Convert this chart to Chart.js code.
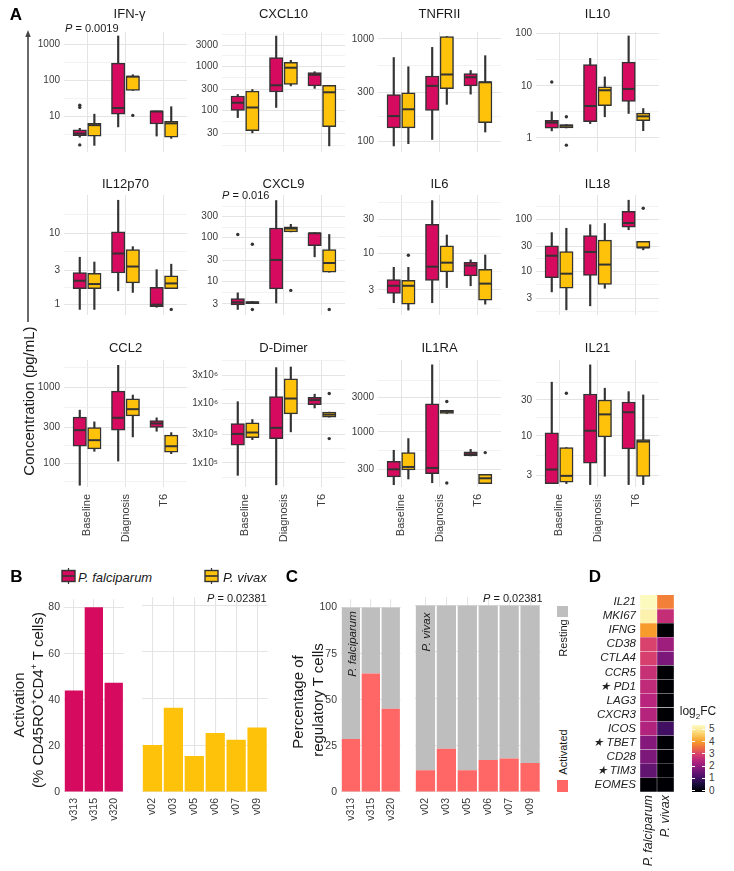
<!DOCTYPE html>
<html><head><meta charset="utf-8">
<script src="https://cdn.jsdelivr.net/npm/chart.js@4/dist/chart.umd.min.js"></script>
<style>
html,body{margin:0;padding:0;background:#fff;}
#fig{position:relative;width:734px;height:871px;overflow:hidden;font-family:"Liberation Sans",Arial,Helvetica,sans-serif;color:#1a1a1a;}
#fig canvas{position:absolute;}
.t{position:absolute;white-space:nowrap;line-height:1;}
</style>
</head><body><div id="fig"></div>
<script>
// ---------------- DATA ----------------
const TIMEPOINTS = ['Baseline', 'Diagnosis', 'T6'];
// Box stats per timepoint: [lower whisker, Q1, median, Q3, upper whisker]
const IFNG_PF = [[2.7,2.97,3.4,4.3,4.75],[5.2,11.7,17.3,302,1700],[2.9,6.25,14.0,14.2,14.2]];
const IFNG_PV = [[1.6,2.9,5.8,6.5,11.7],[53,53,128,133,144],[2.5,2.7,6.5,7.45,18.8]];
const IFNG_PF_OUT = [[20.6,18,1.65],[],[]];
const IFNG_PV_OUT = [[],[10.8],[]];
const IFNG_TICKS = [10,100,1000];

const CXCL10_PF = [[69,100,150,213,231],[117,263,374,1600,4900],[318,362,647,724,760]];
const CXCL10_PV = [[31,35,117,275,300],[362,393,937,1250,1380],[15.7,43,259,374,374]];
const CXCL10_PF_OUT = [[],[],[]];
const CXCL10_PV_OUT = [[],[],[]];
const CXCL10_TICKS = [30,100,300,1000,3000];

const TNFRII_PF = [[90,135,176,286,656],[104,200,347,433,824],[288,347,421,458,490]];
const TNFRII_PV = [[94.6,135,205,296,533],[229,326,448,1050,1050],[123,152,376,383,684]];
const TNFRII_PF_OUT = [[],[],[]];
const TNFRII_PV_OUT = [[],[],[]];
const TNFRII_TICKS = [100,300,1000];

const IL10_PF = [[1.37,1.54,1.97,2.19,3.16],[1.89,2.05,4.1,25.5,33.4],[2.95,5.0,8.7,28.4,89.8]];
const IL10_PV = [[1.56,1.56,1.72,1.81,1.81],[2.55,4.15,8.2,9.5,14.8],[1.38,2.16,2.6,3.0,3.67]];
const IL10_PF_OUT = [[11.8],[],[]];
const IL10_PV_OUT = [[2.55,0.73],[],[]];
const IL10_TICKS = [1,10,100];

const IL12_PF = [[0.84,1.65,2.14,2.8,4.6],[1.54,2.75,5.2,10.5,29.5],[0.9,0.92,0.98,1.73,3.07]];
const IL12_PV = [[0.84,1.65,1.92,2.72,3.94],[1.46,2.0,3.4,5.9,6.5],[1.65,1.65,1.96,2.51,3.67]];
const IL12_PF_OUT = [[],[],[]];
const IL12_PV_OUT = [[],[],[0.84]];
const IL12_TICKS = [1,3,10];

const CXCL9_PF = [[2.25,2.87,3.27,3.97,5.4],[3.16,6.67,30.6,165,700],[36,64.5,125,128,128]];
const CXCL9_PV = [[3.06,3.06,3.27,3.43,3.43],[134,134,160,176,200],[16,16,26,53,117]];
const CXCL9_PF_OUT = [[117],[],[]];
const CXCL9_PV_OUT = [[70,2.25],[6.15],[2.25]];
const CXCL9_TICKS = [3,10,30,100,300];

const IL6_PF = [[1.96,2.66,3.42,4.19,6.27],[1.96,4.06,6.4,25.8,56],[3.42,4.72,6.65,7.36,8.0]];
const IL6_PV = [[1.54,1.87,3.42,4.1,6.27],[3.22,5.4,7.3,12.7,18.1],[1.87,2.13,3.67,5.85,9.4]];
const IL6_PF_OUT = [[],[],[]];
const IL6_PV_OUT = [[9.3],[],[]];
const IL6_TICKS = [3,10,30];

const IL18_PF = [[4.0,7.5,20,31,56],[2.15,8.3,23.7,49,79.5],[63.7,71,86,145,237]];
const IL18_PV = [[1.8,4.7,9,24,68],[4.7,5.6,13.5,40,84],[26,28,29,38,38]];
const IL18_PF_OUT = [[],[],[]];
const IL18_PV_OUT = [[],[],[166]];
const IL18_TICKS = [3,10,30,100];

const CCL2_PF = [[52,169,275,407,503],[108,275,399,896,1950],[266,298,336,368,399]];
const CCL2_PV = [[145,156,203,298,353],[224,423,518,710,794],[135,141,169,236,255]];
const CCL2_PF_OUT = [[],[],[]];
const CCL2_PV_OUT = [[],[],[]];
const CCL2_TICKS = [100,300,1000];

const DDIMER_PF = [[6.2e4,1.99e5,3.08e5,4.6e5,1.07e6],[4.3e4,2.57e5,3.89e5,1.31e6,4.0e6],[8.4e5,9.5e5,1.14e6,1.27e6,1.43e6]];
const DDIMER_PV = [[2.47e5,2.67e5,3.25e5,4.72e5,5.37e5],[3.33e5,6.7e5,1.21e6,2.6e6,4.1e6],[5.89e5,5.89e5,6.5e5,7.15e5,7.15e5]];
const DDIMER_PF_OUT = [[],[],[]];
const DDIMER_PV_OUT = [[],[],[1.47e6,2.57e5]];
const DDIMER_TICKS = [1e5,3e5,1e6,3e6];
const DDIMER_TICK_LABELS = ['1x10\u2075','3x10\u2075','1x10\u2076','3x10\u2076'];

const IL1RA_PF = [[184,236,301,390,555],[196,262,315,2450,8570],[463,463,488,526,572]];
const IL1RA_PV = [[221,295,325,515,807],[1800,1800,1920,2000,2000],[190,190,226,256,256]];
const IL1RA_PF_OUT = [[],[],[]];
const IL1RA_PV_OUT = [[],[2640,194],[515]];
const IL1RA_TICKS = [300,1000,3000];

const IL21_PF = [[2.32,2.32,3.57,11,51.7],[2.25,4.33,11.7,36,87.9],[2.25,6.7,20.6,28.2,38.7]];
const IL21_PV = [[2.32,2.42,2.94,7.0,7.0],[2.9,9.7,19.3,30,43],[2.25,2.9,8.4,8.9,35]];
const IL21_PF_OUT = [[],[],[]];
const IL21_PV_OUT = [[36.8],[],[]];
const IL21_TICKS = [3,10,30];

// Panel B
const B_PF_DONORS = ['v313','v315','v320'];
const B_PF_ACTIVATION = [44.0, 80.1, 47.4];
const B_PV_DONORS = ['v02','v03','v05','v06','v07','v09'];
const B_PV_ACTIVATION = [20.1, 36.1, 15.4, 25.3, 22.4, 27.6];
const B_TICKS = [0,20,40,60,80];

// Panel C
const C_PF_DONORS = ['v313','v315','v320'];
const C_PF_ACTIVATED = [28.7, 64.3, 45.2];
const C_PF_RESTING = [71.3, 35.7, 54.8];
const C_PV_DONORS = ['v02','v03','v05','v06','v07','v09'];
const C_PV_ACTIVATED = [11.6, 23.2, 11.6, 17.1, 17.9, 15.5];
const C_PV_RESTING = [88.4, 76.8, 88.4, 82.9, 82.1, 84.5];
const C_TICKS = [0,25,50,75,100];

// Panel D
const D_GENES = ['IL21','MKI67','IFNG','CD38','CTLA4','CCR5','PD1','LAG3','CXCR3','ICOS','TBET','CD28','TIM3','EOMES'];
const D_STARRED = ['PD1','TBET','TIM3'];
const D_SPECIES = ['P. falciparum','P. vivax'];
const D_PF_LOG2FC = [5.3, 5.15, 4.0, 3.0, 2.95, 2.7, 2.6, 2.5, 2.45, 2.4, 1.85, 1.75, 1.45, 0];
const D_PV_LOG2FC = [3.7, 2.65, 0, 2.15, 1.75, 0, 0, 0, 0, 1.05, 0, 0, 0, 0];
const D_LEGEND_TICKS = [0,1,2,3,4,5];

// ---------------- STYLE / LAYOUT ----------------
const FONT = '"Liberation Sans", Arial, Helvetica, sans-serif';
const PF_COLOR = '#D60A5E', PV_COLOR = '#FFC20A';
const ACT_COLOR = '#FF6666', REST_COLOR = '#BEBEBE';
const LINE = '#333333', TICK_COLOR = '#3a3a3a';
const GRID_MAJOR = '#e4e4e4', GRID_MINOR = '#efefef';
const PALETTE = [[0,'#000004'],[0.5,'#150b35'],[1,'#3e1060'],[1.5,'#661473'],[2,'#921b7e'],[2.5,'#b9257c'],[3,'#d9426c'],[3.5,'#ee6d40'],[4,'#f79c2c'],[4.5,'#fac658'],[5,'#fbeb9c'],[5.35,'#fdfcc4']];

Chart.defaults.font.family = FONT;
Chart.defaults.color = TICK_COLOR;

const COL_LEFT = [64, 222, 378, 536], PLOT_W = 123;
const ROW_TOP = [32, 195, 360], ROW_H = [130, 130, 127];

const PANELS = [
  {title:'IFN-\u03b3', pf:IFNG_PF, pv:IFNG_PV, pfOut:IFNG_PF_OUT, pvOut:IFNG_PV_OUT, ticks:IFNG_TICKS, min:1.05, max:2190},
  {title:'CXCL10', pf:CXCL10_PF, pv:CXCL10_PV, pfOut:CXCL10_PF_OUT, pvOut:CXCL10_PV_OUT, ticks:CXCL10_TICKS, min:11.4, max:6070},
  {title:'TNFRII', pf:TNFRII_PF, pv:TNFRII_PV, pfOut:TNFRII_PF_OUT, pvOut:TNFRII_PV_OUT, ticks:TNFRII_TICKS, min:78.5, max:1164},
  {title:'IL10', pf:IL10_PF, pv:IL10_PV, pfOut:IL10_PF_OUT, pvOut:IL10_PV_OUT, ticks:IL10_TICKS, min:0.54, max:107},
  {title:'IL12p70', pf:IL12_PF, pv:IL12_PV, pfOut:IL12_PF_OUT, pvOut:IL12_PV_OUT, ticks:IL12_TICKS, min:0.705, max:35},
  {title:'CXCL9', pf:CXCL9_PF, pv:CXCL9_PV, pfOut:CXCL9_PF_OUT, pvOut:CXCL9_PV_OUT, ticks:CXCL9_TICKS, min:1.68, max:937},
  {title:'IL6', pf:IL6_PF, pv:IL6_PV, pfOut:IL6_PF_OUT, pvOut:IL6_PV_OUT, ticks:IL6_TICKS, min:1.31, max:67.3},
  {title:'IL18', pf:IL18_PF, pv:IL18_PV, pfOut:IL18_PF_OUT, pvOut:IL18_PV_OUT, ticks:IL18_TICKS, min:1.43, max:299},
  {title:'CCL2', pf:CCL2_PF, pv:CCL2_PV, pfOut:CCL2_PF_OUT, pvOut:CCL2_PV_OUT, ticks:CCL2_TICKS, min:49.3, max:2290},
  {title:'D-Dimer', pf:DDIMER_PF, pv:DDIMER_PV, pfOut:DDIMER_PF_OUT, pvOut:DDIMER_PV_OUT, ticks:DDIMER_TICKS, labels:DDIMER_TICK_LABELS, min:3.95e4, max:5.37e6},
  {title:'IL1RA', pf:IL1RA_PF, pv:IL1RA_PV, pfOut:IL1RA_PF_OUT, pvOut:IL1RA_PV_OUT, ticks:IL1RA_TICKS, min:171, max:10000},
  {title:'IL21', pf:IL21_PF, pv:IL21_PV, pfOut:IL21_PF_OUT, pvOut:IL21_PV_OUT, ticks:IL21_TICKS, min:2.09, max:102}
];

const fig = document.getElementById('fig');
function addCanvas(left, top, w, h) {
  const c = document.createElement('canvas');
  c.width = w; c.height = h;
  c.style.left = left + 'px'; c.style.top = top + 'px';
  c.style.width = w + 'px'; c.style.height = h + 'px';
  fig.appendChild(c);
  return c;
}
function txt(html, x, y, o = {}) {
  const d = document.createElement('div');
  d.className = 't';
  d.innerHTML = html;
  d.style.fontSize = (o.size || 13) + 'px';
  if (o.bold) d.style.fontWeight = 'bold';
  if (o.italic) d.style.fontStyle = 'italic';
  d.style.color = o.color || '#1a1a1a';
  d.style.left = x + 'px'; d.style.top = y + 'px';
  const ax = o.anchor === 'left' ? '0' : '-50%';
  d.style.transform = o.rot ? `translate(-50%,-50%) rotate(${o.rot}deg)` : `translate(${ax},-50%)`;
  fig.appendChild(d);
  return d;
}
function minorTicks(major, min, max) {
  const L = major.map(Math.log10);
  const n = L.length;
  const ext = [L[0] - (L[1] - L[0]), ...L, L[n-1] + (L[n-1] - L[n-2])];
  const out = [];
  for (let i = 0; i < ext.length - 1; i++) {
    const m = Math.pow(10, (ext[i] + ext[i+1]) / 2);
    if (m > min && m < max) out.push(m);
  }
  return out;
}
const baseOpts = () => ({
  responsive: false, animation: false, events: [], devicePixelRatio: 1,
  plugins: { legend: { display: false }, tooltip: { enabled: false } }
});

// ---------------- PANEL A: box plots ----------------
function boxChart(p, col, row) {
  const left = COL_LEFT[col], top = ROW_TOP[row], h = ROW_H[row], w = PLOT_W;
  const YW = 46, PT = 12, PR = 12, XH = row === 2 ? 62 : 0;
  const cv = addCanvas(left - YW, top - PT, YW + w + PR, PT + h + XH);
  const unit = w / 3.2, OFF = 0.19, bw = unit * 0.35;
  const pos = (i, s) => i + s * OFF;
  const whisk = (st, s) => st.map((q, i) => ({x: pos(i, s), y: [q[0], q[4]]}));
  const box = (st, s) => st.map((q, i) => ({x: pos(i, s), y: [q[1], q[3]]}));
  const med = (st, s) => st.map((q, i) => ({x: pos(i, s), y: q[2]}));
  const outl = (o, s) => o.flatMap((a, i) => a.map(v => ({x: pos(i, s), y: v})));
  const minors = minorTicks(p.ticks, p.min, p.max);
  const tickObjs = [
    ...p.ticks.map((v, i) => ({value: v, mj: true, lab: p.labels ? p.labels[i] : String(v)})),
    ...minors.map(v => ({value: v, mj: false, lab: ''}))
  ].sort((a, b) => a.value - b.value);
  const opts = baseOpts();
  opts.layout = {padding: {top: PT, right: PR, left: 0, bottom: 0}};
  opts.scales = {
    x: {
      type: 'linear', min: -0.6, max: 2.6, offset: false,
      afterBuildTicks: a => { a.ticks = [0, 1, 2].map(v => ({value: v})); },
      afterFit: a => { a.height = XH; },
      grid: {color: GRID_MAJOR, lineWidth: 1, drawTicks: false, offset: false},
      border: {display: false},
      ticks: {display: row === 2, autoSkip: false, minRotation: 90, maxRotation: 90, padding: 7,
        font: {size: 11, family: FONT}, color: TICK_COLOR, callback: v => TIMEPOINTS[v]}
    },
    y: {
      type: 'logarithmic', min: p.min, max: p.max,
      afterBuildTicks: a => { a.ticks = tickObjs.map(t => Object.assign({}, t)); },
      afterFit: a => { a.width = YW; },
      grid: {drawTicks: false,
        color: c => (c.tick && c.tick.mj) ? GRID_MAJOR : GRID_MINOR,
        lineWidth: c => (c.tick && c.tick.mj) ? 1.1 : 0.8},
      border: {display: false},
      ticks: {autoSkip: false, padding: 4, font: {size: 10, family: FONT}, color: TICK_COLOR,
        callback: (v, i, t) => t[i].lab}
    }
  };
  const common = {grouped: false};
  new Chart(cv, {
    type: 'bar',
    data: {datasets: [
      {type: 'bar', data: whisk(p.pf, -1), backgroundColor: LINE, barThickness: 1.5, order: 6, ...common},
      {type: 'bar', data: whisk(p.pv, 1), backgroundColor: LINE, barThickness: 1.5, order: 6, ...common},
      {type: 'bar', data: box(p.pf, -1), backgroundColor: PF_COLOR, borderColor: LINE, borderWidth: 1.5, borderSkipped: false, barThickness: bw, order: 4, ...common},
      {type: 'bar', data: box(p.pv, 1), backgroundColor: PV_COLOR, borderColor: LINE, borderWidth: 1.5, borderSkipped: false, barThickness: bw, order: 4, ...common},
      {type: 'scatter', data: med(p.pf, -1), pointStyle: 'line', pointRadius: bw / 2 - 0.5, borderColor: LINE, borderWidth: 2, order: 2},
      {type: 'scatter', data: med(p.pv, 1), pointStyle: 'line', pointRadius: bw / 2 - 0.5, borderColor: LINE, borderWidth: 2, order: 2},
      {type: 'scatter', data: outl(p.pfOut, -1), pointRadius: 1.7, backgroundColor: LINE, borderWidth: 0, order: 1},
      {type: 'scatter', data: outl(p.pvOut, 1), pointRadius: 1.7, backgroundColor: LINE, borderWidth: 0, order: 1}
    ]},
    options: opts
  });
  txt(p.title, left + w / 2 + (row === 0 && col === 0 ? 4 : 0), [13, 183, 347][row], {size: 13});
}
PANELS.forEach((p, i) => boxChart(p, i % 4, Math.floor(i / 4)));

// P values panel A
txt('<i>P</i> = 0.0019', 65, 27.5, {size: 11, anchor: 'left'});
txt('<i>P</i> = 0.016', 222, 194.5, {size: 11, anchor: 'left'});

// Panel A axis label + arrow
const arrow = document.createElementNS('http://www.w3.org/2000/svg', 'svg');
arrow.setAttribute('width', '12'); arrow.setAttribute('height', '300');
arrow.style.position = 'absolute'; arrow.style.left = '22px'; arrow.style.top = '28px';
arrow.innerHTML = '<line x1="6" y1="6" x2="6" y2="294" stroke="#444" stroke-width="1.6"/><polygon points="6,2 3.3,9 8.7,9" fill="#444"/>';
fig.appendChild(arrow);
txt('Concentration (pg/mL)', 27.5, 401, {size: 15, rot: -90});

// ---------------- PANEL B / C facets ----------------
function facetChart(cfg) {
  const PT = 8, PR = 4;
  const cv = addCanvas(cfg.left - cfg.YW, cfg.top - PT, cfg.YW + cfg.w + PR, PT + cfg.h + cfg.XH);
  const opts = baseOpts();
  opts.layout = {padding: {top: PT, right: PR, left: 0, bottom: 0}};
  opts.scales = {
    x: {
      type: 'category', offset: true, stacked: !!cfg.stacked,
      afterFit: a => { a.height = cfg.XH; },
      grid: {color: GRID_MAJOR, offset: false, drawTicks: false, lineWidth: 1.1},
      border: {display: false},
      ticks: {autoSkip: false, minRotation: 90, maxRotation: 90, padding: 6, font: {size: 10.5, family: FONT}, color: TICK_COLOR}
    },
    y: {
      type: 'linear', min: 0, max: cfg.yMax, stacked: !!cfg.stacked,
      afterBuildTicks: a => { a.ticks = cfg.yTicks.map(v => ({value: v})); },
      afterFit: a => { a.width = cfg.YW; },
      grid: {color: GRID_MAJOR, drawTicks: false, lineWidth: 1.1},
      border: {display: false},
      ticks: {display: cfg.showY, padding: 4, font: {size: 10.5, family: FONT}, color: TICK_COLOR}
    }
  };
  new Chart(cv, {type: 'bar', data: {labels: cfg.labels, datasets: cfg.datasets}, options: opts});
}
const barDs = (data, color) => ({data, backgroundColor: color, barPercentage: 0.92, categoryPercentage: 1, borderWidth: 0});

// B
facetChart({left: 64, top: 597, w: 65, h: 195, XH: 45, YW: 40, labels: B_PF_DONORS,
  datasets: [barDs(B_PF_ACTIVATION, PF_COLOR)], yMax: 83.6, yTicks: B_TICKS, showY: true});
facetChart({left: 142, top: 597, w: 130, h: 195, XH: 45, YW: 0, labels: B_PV_DONORS,
  datasets: [barDs(B_PV_ACTIVATION, PV_COLOR)], yMax: 83.6, yTicks: B_TICKS, showY: false});
// C
facetChart({left: 341, top: 597, w: 65, h: 195, XH: 45, YW: 40, labels: C_PF_DONORS, stacked: true,
  datasets: [barDs(C_PF_ACTIVATED, ACT_COLOR), barDs(C_PF_RESTING, REST_COLOR)], yMax: 104.5, yTicks: C_TICKS, showY: true});
facetChart({left: 415, top: 597, w: 130, h: 195, XH: 45, YW: 0, labels: C_PV_DONORS, stacked: true,
  datasets: [barDs(C_PV_ACTIVATED, ACT_COLOR), barDs(C_PV_RESTING, REST_COLOR)], yMax: 104.5, yTicks: C_TICKS, showY: false});

// B texts
txt('B', 16.5, 576, {size: 17, bold: true, color: '#000'});
function keySvg(color, x, y) {
  const s = document.createElementNS('http://www.w3.org/2000/svg', 'svg');
  s.setAttribute('width', '15'); s.setAttribute('height', '16');
  s.style.position = 'absolute'; s.style.left = x + 'px'; s.style.top = y + 'px';
  s.innerHTML = `<line x1="7.5" y1="0" x2="7.5" y2="16" stroke="${LINE}" stroke-width="1.2"/>` +
    `<rect x="1" y="2.5" width="13" height="11" fill="${color}" stroke="${LINE}" stroke-width="1.4"/>` +
    `<line x1="1" y1="8" x2="14" y2="8" stroke="${LINE}" stroke-width="1.6"/>`;
  fig.appendChild(s);
}
keySvg(PF_COLOR, 61, 568);
txt('P. falciparum', 78, 576.5, {size: 13, italic: true, anchor: 'left'});
keySvg(PV_COLOR, 204, 568);
txt('P. vivax', 223, 576.5, {size: 13, italic: true, anchor: 'left'});
txt('<i>P</i> = 0.02381', 207, 598, {size: 11, anchor: 'left'});
txt('Activation', 18, 705, {size: 15, rot: -90});
txt('(% CD45RO<sup style="font-size:9px">+</sup>CD4<sup style="font-size:9px">+</sup> T cells)', 37, 700, {size: 15, rot: -90});

// C texts
txt('C', 292, 576, {size: 17, bold: true, color: '#000'});
txt('<i>P</i> = 0.02381', 483, 598, {size: 11, anchor: 'left'});
txt('Percentage of', 297, 702, {size: 15, rot: -90});
txt('regulatory T cells', 317, 700, {size: 15, rot: -90});
txt('P. falciparum', 352.5, 644, {size: 11.5, italic: true, rot: -90});
txt('P. vivax', 426.5, 632, {size: 11.5, italic: true, rot: -90});
const sq1 = document.createElement('div');
sq1.style.cssText = `position:absolute;left:557px;top:606px;width:11px;height:11px;background:${REST_COLOR}`;
fig.appendChild(sq1);
const sq2 = document.createElement('div');
sq2.style.cssText = `position:absolute;left:557px;top:780px;width:11px;height:12px;background:${ACT_COLOR}`;
fig.appendChild(sq2);
txt('Resting', 563, 638, {size: 11, rot: -90});
txt('Activated', 563, 752, {size: 11, rot: -90});

// ---------------- PANEL D heatmap ----------------
function hexToRgb(h) { return [1, 3, 5].map(i => parseInt(h.substr(i, 2), 16)); }
function fcColor(v) {
  if (v <= PALETTE[0][0]) return PALETTE[0][1];
  for (let i = 1; i < PALETTE.length; i++) {
    if (v <= PALETTE[i][0]) {
      const [v0, c0] = PALETTE[i-1], [v1, c1] = PALETTE[i];
      const t = (v - v0) / (v1 - v0);
      const a = hexToRgb(c0), b = hexToRgb(c1);
      return 'rgb(' + a.map((x, k) => Math.round(x + (b[k] - x) * t)).join(',') + ')';
    }
  }
  return PALETTE[PALETTE.length - 1][1];
}
(function () {
  const YW = 70, PT = 8, PR = 6, XH = 85, w = 39, h = 200, left = 640, top = 592;
  const cv = addCanvas(left - YW, top - PT, YW + w + PR, PT + h + XH);
  const opts = baseOpts();
  opts.indexAxis = 'y';
  opts.layout = {padding: {top: PT, right: PR, left: 0, bottom: 0}};
  opts.scales = {
    y: {type: 'category', offset: true, stacked: true,
      afterFit: a => { a.width = YW; },
      grid: {display: false, drawTicks: false}, border: {display: false},
      ticks: {autoSkip: false, padding: 4, color: '#222', font: {size: 11.5, style: 'italic', family: FONT},
        callback: (v, i) => (D_STARRED.includes(D_GENES[i]) ? '\u2605 ' : '') + D_GENES[i]}},
    x: {type: 'linear', min: 0, max: 2, stacked: true,
      afterBuildTicks: a => { a.ticks = [0.5, 1.5].map(v => ({value: v})); },
      afterFit: a => { a.height = XH; },
      grid: {display: false, drawTicks: false}, border: {display: false},
      ticks: {autoSkip: false, minRotation: 90, maxRotation: 90, padding: 3, color: '#222',
        font: {size: 12.5, style: 'italic', family: FONT}, callback: v => D_SPECIES[Math.floor(v)]}}
  };
  new Chart(cv, {
    type: 'bar',
    data: {labels: D_GENES, datasets: [
      {label: D_SPECIES[0], data: D_GENES.map(() => 1), backgroundColor: D_PF_LOG2FC.map(fcColor), categoryPercentage: 1, barPercentage: 1, borderWidth: 0.5, borderColor: 'rgba(255,255,255,0.08)', borderSkipped: false},
      {label: D_SPECIES[1], data: D_GENES.map(() => 1), backgroundColor: D_PV_LOG2FC.map(fcColor), categoryPercentage: 1, barPercentage: 1, borderWidth: 0.5, borderColor: 'rgba(255,255,255,0.08)', borderSkipped: false}
    ]},
    options: opts
  });
})();
txt('D', 595, 576, {size: 17, bold: true, color: '#000'});
// colour bar legend
(function () {
  const vmin = -0.08, vmax = 5.35, top = 725, bottom = 791.7, left = 692, width = 13;
  const stops = PALETTE.map(([v, c]) => `${c} ${((v - vmin) / (vmax - vmin) * 100).toFixed(1)}%`);
  const bar = document.createElement('div');
  bar.style.cssText = `position:absolute;left:${left}px;top:${top}px;width:${width}px;height:${bottom - top}px;background:linear-gradient(to top, #000004 0%, ${stops.join(',')})`;
  fig.appendChild(bar);
  const yOf = v => bottom - (v - vmin) / (vmax - vmin) * (bottom - top);
  D_LEGEND_TICKS.forEach(v => {
    const y = yOf(v);
    [left, left + width - 3].forEach(x => {
      const d = document.createElement('div');
      d.style.cssText = `position:absolute;left:${x}px;top:${(y - 0.6).toFixed(1)}px;width:3px;height:1.2px;background:#fff`;
      fig.appendChild(d);
    });
    txt(String(v), 709, y, {size: 10, anchor: 'left', color: '#3a3a3a'});
  });
  txt('log<sub style="font-size:8px">2</sub>FC', 698, 713, {size: 12});
})();

txt('A', 16, 14, {size: 17, bold: true, color: '#000'});
</script>
</body></html>
